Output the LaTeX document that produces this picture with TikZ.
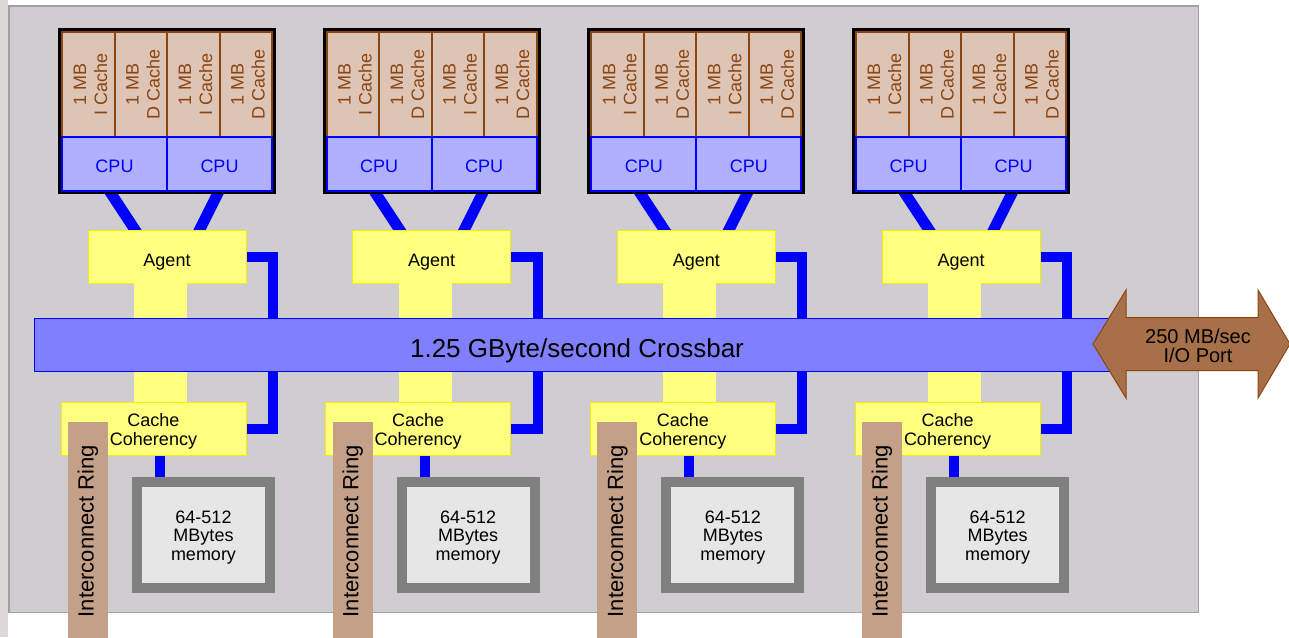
\documentclass[tikz,border=0pt]{standalone}
\usepackage{fontspec}
\setmainfont{Liberation Sans}
\usetikzlibrary{calc}
\definecolor{panelfill}{RGB}{207,205,208}
\definecolor{panelline}{RGB}{160,160,160}
\definecolor{stripfill}{RGB}{221,217,214}
\definecolor{cbrown}{RGB}{139,69,19}
\definecolor{cfill}{RGB}{221,196,180}
\definecolor{cpufill}{RGB}{176,176,255}
\definecolor{pureblue}{RGB}{0,0,255}
\definecolor{agentfill}{RGB}{255,255,128}
\definecolor{agentline}{RGB}{240,240,0}
\definecolor{xbarfill}{RGB}{128,128,255}
\definecolor{ringfill}{RGB}{196,160,136}
\definecolor{memgray}{RGB}{128,128,128}
\definecolor{memfill}{RGB}{230,230,230}
\definecolor{iofill}{RGB}{168,112,72}
\pgfdeclarelayer{bg}
\pgfdeclarelayer{wires}
\pgfsetlayers{bg,wires,main}
\begin{document}
\begin{tikzpicture}[x=1pt,y=-1pt,
  every node/.style={inner sep=0pt, outer sep=0pt},
  modbox/.style={fill=black, minimum width=218, minimum height=166},
  cachecell/.style={draw=cbrown, line width=2pt, fill=cfill, rotate=90,
    minimum width=105, minimum height=52.5, text=cbrown, align=center,
    text height=37.5pt, text depth=0pt,
    font=\fontsize{18}{21}\selectfont},
  cpucell/.style={draw=pureblue, line width=2pt, fill=cpufill,
    minimum width=105, minimum height=54, text=pureblue,
    text height=17pt, text depth=0pt,
    font=\fontsize{18}{19}\selectfont},
  agentbox/.style={draw=agentline, line width=1pt, fill=agentfill,
    minimum width=158, minimum height=53, text height=20pt, text depth=0pt,
    font=\fontsize{18}{19}\selectfont},
  yconn/.style={fill=agentfill, minimum width=53, minimum height=119},
  ccbox/.style={draw=agentline, line width=1pt, fill=agentfill,
    minimum width=185, minimum height=53, align=center,
    text height=33pt, text depth=0pt,
    font=\fontsize{18}{19}\selectfont},
  ringbar/.style={fill=ringfill, rotate=90, minimum width=218, minimum height=40,
    font=\fontsize{22}{24}\selectfont},
  membox/.style={draw=memgray, line width=10pt, fill=memfill,
    minimum width=133, minimum height=106, align=center,
    text height=50pt, text depth=0pt,
    font=\fontsize{18}{18.5}\selectfont},
  xbar/.style={draw=pureblue, line width=1pt, fill=xbarfill,
    minimum width=1086, minimum height=53, text height=25pt, text depth=0pt,
    font=\fontsize{26}{28}\selectfont},
  bluewire/.style={draw=pureblue, line width=10pt},
  cpuwire/.style={draw=pureblue, line width=11pt},
  ioarrow/.style={fill=iofill, draw=cbrown, line width=1pt, line join=miter},
  iotext/.style={align=center, text height=36pt, text depth=0pt,
    font=\fontsize{20}{19}\selectfont}
]
\useasboundingbox (0,0) rectangle (1289,637);
\begin{pgfonlayer}{bg}
  \fill[stripfill] (0,0) rectangle (8,637);
  \filldraw[fill=panelfill, draw=panelline, line width=1.5pt] (8.75,5.75) rectangle (1198.25,612.25);
\end{pgfonlayer}

\foreach \i in {1,...,4}{
  \pgfmathsetmacro\ox{264.67*(\i-1)}
  \node[modbox] (mod\i) at (\ox+167,111) {};
  \node[cachecell] (ci\i) at (\ox+88.25,84.5) {1 MB\\I Cache};
  \node[cachecell] (cd\i) at (\ox+140.75,84.5) {1 MB\\D Cache};
  \node[cachecell] (cj\i) at (\ox+193.25,84.5) {1 MB\\I Cache};
  \node[cachecell] (ce\i) at (\ox+245.75,84.5) {1 MB\\D Cache};
  \node[cpucell] (cpua\i) at (\ox+114.5,164) {CPU};
  \node[cpucell] (cpub\i) at (\ox+219.5,164) {CPU};
  \node[agentbox] (agent\i) at (\ox+167,256.5) {Agent};
  \node[yconn] (yc\i) at (\ox+160.5,342.5) {};
  \node[ccbox] (cc\i) at (\ox+153.5,428.5) {Cache\\Coherency};
  \node[ringbar] (ring\i) at (\ox+88,531) {Interconnect Ring};
  \node[membox] (mem\i) at (\ox+203.5,535) {64-512\\MBytes\\memory};
  \begin{pgfonlayer}{wires}
    \draw[cpuwire] ($(cpua\i.south)+(-9,-6)$) -- ($(agent\i.north)+(-26,9)$);
    \draw[cpuwire] ($(cpub\i.south)+(2.5,-6)$) -- ($(agent\i.north)+(28,9)$);
    \draw[bluewire] ($(agent\i.east)+(-2,0)$) -- ++(29,0) |- ($(cc\i.east)+(-2,0)$);
    \draw[bluewire] ($(cc\i.south)+(6.5,-2)$) coordinate (stub\i) -- (stub\i |- mem\i.north);
  \end{pgfonlayer}
}

\node[xbar] (xbar) at (577,344.5) {1.25 GByte/second Crossbar};

\draw[ioarrow] (1093,344) -- (1126,290) -- (1126,317.5) -- (1258,317.5) -- (1258,290)
  -- (1290,344) -- (1258,398) -- (1258,370.5) -- (1126,370.5) -- (1126,398) -- cycle;
\node[iotext] (io) at (1198,344) {250 MB/sec\\I/O Port};
\end{tikzpicture}
\end{document}
